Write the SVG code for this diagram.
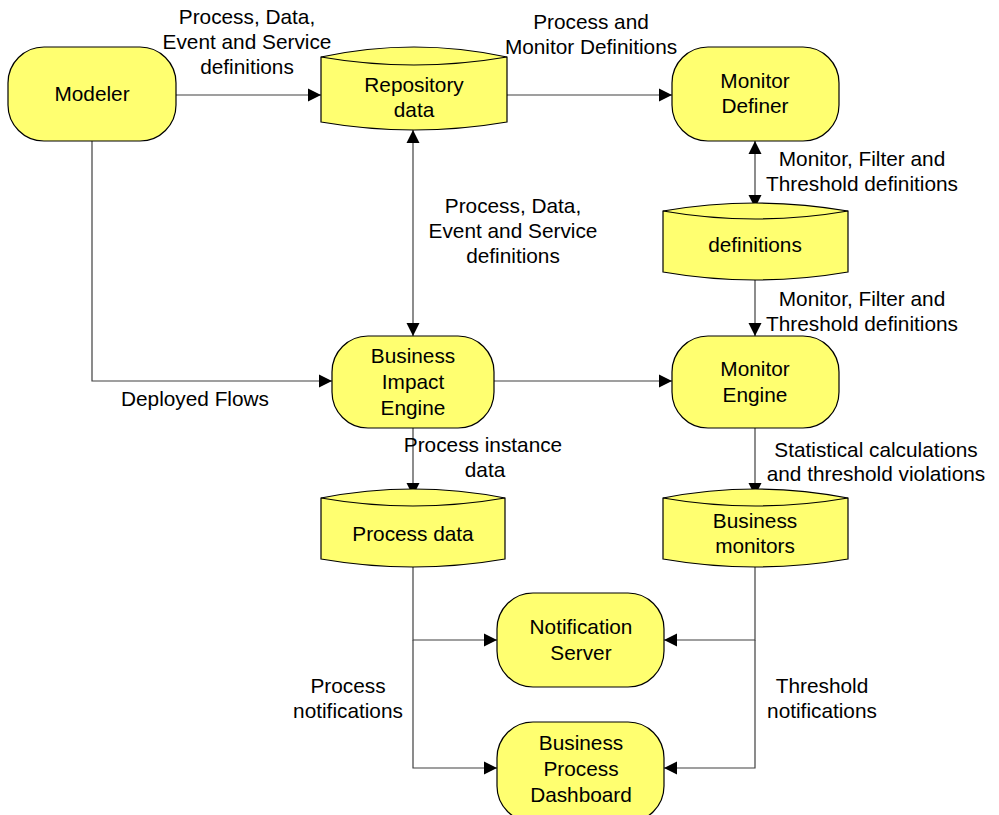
<svg xmlns="http://www.w3.org/2000/svg" width="999" height="815" viewBox="0 0 999 815">
<style>
.n{fill:#FFFF70;stroke:#000;stroke-width:1.2}
.c{fill:none;stroke:#000;stroke-width:1.2}
.e{fill:none;stroke:#404040;stroke-width:1.2}
text{font-family:"Liberation Sans",Arial,sans-serif;font-size:20.8px;fill:#000;text-anchor:middle}
</style>
<defs>
<marker id="a" markerUnits="userSpaceOnUse" markerWidth="14" markerHeight="14" viewBox="0 0 14 14" refX="13" refY="7" orient="auto-start-reverse">
<path d="M0,0.5 L13,7 L0,13.5 Z" fill="#000"/>
</marker>
</defs>
<rect width="999" height="815" fill="#fff"/>
<g id="connectors">
<path class="e" d="M176,95 H321" marker-end="url(#a)"/>
<path class="e" d="M507,95 H672" marker-end="url(#a)"/>
<path class="e" d="M755,141 V208" marker-start="url(#a)" marker-end="url(#a)"/>
<path class="e" d="M755,280 V336" marker-end="url(#a)"/>
<path class="e" d="M413,130 V336" marker-start="url(#a)" marker-end="url(#a)"/>
<path class="e" d="M92,141 V381 H332" marker-end="url(#a)"/>
<path class="e" d="M494,381 H672" marker-end="url(#a)"/>
<path class="e" d="M413,428 V496" marker-end="url(#a)"/>
<path class="e" d="M755,428 V496" marker-end="url(#a)"/>
<path class="e" d="M413,567 V640 H497" marker-end="url(#a)"/>
<path class="e" d="M413,640 V768 H497" marker-end="url(#a)"/>
<path class="e" d="M755,567 V640 H664" marker-end="url(#a)"/>
<path class="e" d="M755,640 V768 H664" marker-end="url(#a)"/>
</g>
<g id="modeler">
<rect class="n" x="8" y="47" width="168" height="94" rx="36" ry="36"/>
<text x="92" y="101">Modeler</text>
</g>
<g id="repository">
<path class="n" d="M321,57 Q414,37 507,57 L507,122 Q414,138 321,122 Z"/>
<path class="c" d="M321,57 Q414,73 507,57"/>
<text x="414" y="92">Repository</text>
<text x="414" y="117">data</text>
</g>
<g id="monitor-definer">
<rect class="n" x="672" y="47" width="167" height="94" rx="36" ry="36"/>
<text x="755" y="88">Monitor</text>
<text x="755" y="113">Definer</text>
</g>
<g id="definitions">
<path class="n" d="M663,211 Q755,195 848,211 L848,272 Q755,288 663,272 Z"/>
<path class="c" d="M663,211 Q755,227 848,211"/>
<text x="755" y="252">definitions</text>
</g>
<g id="business-impact-engine">
<rect class="n" x="332" y="336" width="162" height="92" rx="36" ry="36"/>
<text x="413" y="363">Business</text>
<text x="413" y="389">Impact</text>
<text x="413" y="415">Engine</text>
</g>
<g id="monitor-engine">
<rect class="n" x="672" y="336" width="167" height="92" rx="36" ry="36"/>
<text x="755" y="376">Monitor</text>
<text x="755" y="402">Engine</text>
</g>
<g id="process-data">
<path class="n" d="M321,498 Q413,480 505,498 L505,559 Q413,575 321,559 Z"/>
<path class="c" d="M321,498 Q413,514 505,498"/>
<text x="413" y="541">Process data</text>
</g>
<g id="business-monitors">
<path class="n" d="M663,498 Q755,480 848,498 L848,559 Q755,575 663,559 Z"/>
<path class="c" d="M663,498 Q755,514 848,498"/>
<text x="755" y="528">Business</text>
<text x="755" y="553">monitors</text>
</g>
<g id="notification-server">
<rect class="n" x="497" y="593" width="167" height="94" rx="36" ry="36"/>
<text x="581" y="634">Notification</text>
<text x="581" y="660">Server</text>
</g>
<g id="dashboard">
<rect class="n" x="497" y="722" width="167" height="100" rx="36" ry="36"/>
<text x="581" y="750">Business</text>
<text x="581" y="776">Process</text>
<text x="581" y="802">Dashboard</text>
</g>
<g id="labels">
<text x="247" y="24">Process, Data,</text>
<text x="247" y="49">Event and Service</text>
<text x="247" y="74">definitions</text>
<text x="591" y="29">Process and</text>
<text x="591" y="54">Monitor Definitions</text>
<text x="862" y="166">Monitor, Filter and</text>
<text x="862" y="191">Threshold definitions</text>
<text x="513" y="213">Process, Data,</text>
<text x="513" y="238">Event and Service</text>
<text x="513" y="263">definitions</text>
<text x="862" y="306">Monitor, Filter and</text>
<text x="862" y="331">Threshold definitions</text>
<text x="195" y="406">Deployed Flows</text>
<text x="483" y="452">Process instance</text>
<text x="485" y="477">data</text>
<text x="876" y="457">Statistical calculations</text>
<text x="876" y="481">and threshold violations</text>
<text x="348" y="693">Process</text>
<text x="348" y="718">notifications</text>
<text x="822" y="693">Threshold</text>
<text x="822" y="718">notifications</text>
</g>
</svg>
